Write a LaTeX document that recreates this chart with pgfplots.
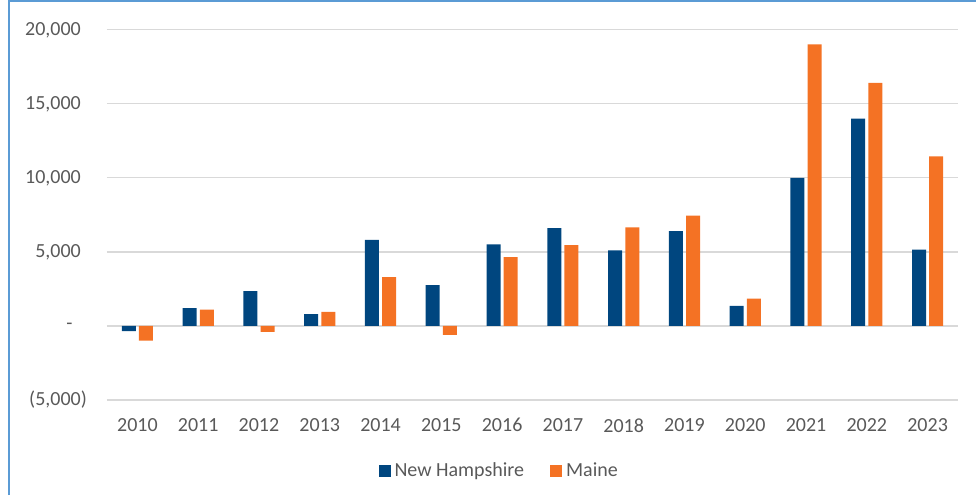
\documentclass[border=0pt]{standalone}
\usepackage{pgfplots}
\pgfplotsset{compat=1.18}
\usepackage{fontspec}
\setmainfont{Carlito}
\definecolor{nh}{RGB}{0,70,127}
\definecolor{me}{RGB}{244,114,36}
\definecolor{txt}{RGB}{89,89,89}
\definecolor{grd}{RGB}{217,217,217}
\definecolor{frm}{RGB}{91,155,213}
\begin{document}
\begin{tikzpicture}
\useasboundingbox (0,0) rectangle (488pt,247.5pt);
\draw[frm, line width=1pt] (4.5pt,0pt) -- (4.5pt,247.25pt) -- (488pt,247.25pt);
\begin{axis}[
  at={(53.5pt,47.5pt)}, anchor=south west,
  scale only axis, width=425.5pt, height=185.2pt,
  ybar=1.6pt, bar width=7pt,
  xmin=-0.5, xmax=13.5, ymin=-5000, ymax=20000,
  scaled y ticks=false,
  xtick={0,1,2,3,4,5,6,7,8,9,10,11,12,13},
  xticklabels={2010,2011,2012,2013,2014,2015,2016,2017,2018,2019,2020,2021,2022,2023},
  ytick={-5000,0,5000,10000,15000,20000},
  yticklabels={{(5,000)},{-\hspace*{7.2pt}},{5,000\phantom{)}},{10,000\phantom{)}},{15,000\phantom{)}},{20,000\phantom{)}}},
  ymajorgrids, grid style={grd, line width=0.7pt},
  axis line style={draw=none},
  major tick length=0pt,
  tick label style={font=\fontsize{10}{12}\selectfont, text=txt},
  yticklabel style={anchor=east, inner sep=0pt, xshift=-9.85pt},
  xticklabel style={yshift=-5.7pt},
  legend style={at={(0.462,-0.192)}, anchor=center, legend columns=-1, draw=none, fill=none,
    font=\fontsize{10}{12}\selectfont, text=txt,
    /tikz/every even column/.append style={column sep=11pt}},
]
\addplot[fill=nh, draw=none, legend image code/.code={\fill[nh] (0pt,-3pt) rectangle (6pt,3pt);}] coordinates {
(0,-350) (1,1200) (2,2350) (3,800) (4,5800) (5,2750) (6,5500) (7,6600) (8,5100) (9,6400) (10,1350) (11,10000) (12,14000) (13,5150)};
\addlegendentry{New Hampshire}
\addplot[fill=me, draw=none, legend image code/.code={\fill[me] (0pt,-3pt) rectangle (6pt,3pt);}] coordinates {
(0,-1000) (1,1100) (2,-400) (3,950) (4,3300) (5,-600) (6,4650) (7,5450) (8,6650) (9,7450) (10,1850) (11,19000) (12,16400) (13,11450)};
\addlegendentry{Maine}
\end{axis}
\end{tikzpicture}
\end{document}
